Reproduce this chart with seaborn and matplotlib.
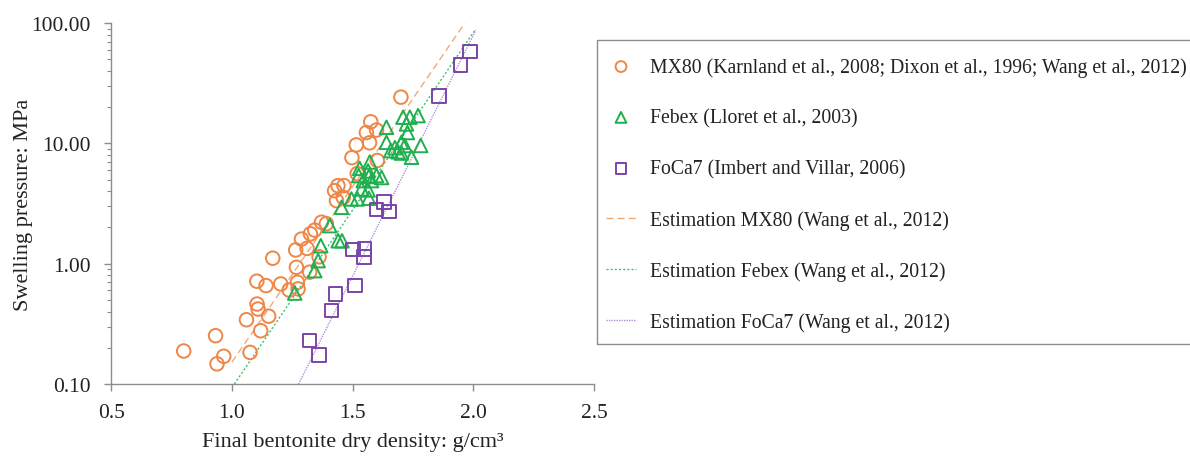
import numpy as np
import pandas as pd
import matplotlib
matplotlib.use("Agg")
import matplotlib.pyplot as plt
import seaborn as sns
from matplotlib.patches import Rectangle
from matplotlib.ticker import FixedLocator, FormatStrFormatter, LogLocator, NullFormatter

# ---------------- data ----------------
mx80_density = [0.800, 0.932, 0.938, 0.966, 1.075, 1.060, 1.119, 1.104, 1.108, 1.152,
                1.103, 1.141, 1.169, 1.202, 1.237, 1.274, 1.271, 1.267, 1.264, 1.311,
                1.288, 1.322, 1.361, 1.325, 1.343, 1.371, 1.391, 1.425, 1.439, 1.464,
                1.433, 1.461, 1.497, 1.515, 1.519, 1.557, 1.570, 1.575, 1.599, 1.602,
                1.700]
mx80_pressure = [0.188, 0.252, 0.147, 0.170, 0.183, 0.342, 0.277, 0.462, 0.420, 0.366,
                 0.715, 0.657, 1.11, 0.678, 0.604, 0.617, 0.700, 0.933, 1.30, 1.34,
                 1.60, 0.85, 1.14, 1.77, 1.90, 2.21, 2.15, 4.04, 4.45, 4.45,
                 3.34, 3.55, 7.6, 9.7, 5.6, 12.3, 10.1, 15.1, 12.9, 7.2,
                 24.2]

febex_density = [1.709, 1.737, 1.771, 1.640, 1.723, 1.727, 1.640, 1.675, 1.702, 1.716,
                 1.658, 1.688, 1.702, 1.744, 1.782, 1.571, 1.529, 1.564, 1.525, 1.567,
                 1.599, 1.620, 1.544, 1.578, 1.537, 1.564, 1.495, 1.520, 1.567, 1.454,
                 1.405, 1.440, 1.456, 1.368, 1.357, 1.343, 1.260]
febex_pressure = [16.5, 16.5, 17.0, 13.6, 14.5, 12.3, 10.2, 9.2, 10.2, 9.6,
                  8.7, 8.5, 8.3, 7.66, 9.6, 7.0, 6.2, 5.9, 5.4, 5.3,
                  5.4, 5.2, 4.9, 4.9, 4.18, 4.1, 3.45, 3.45, 3.5, 2.94,
                  2.07, 1.55, 1.55, 1.41, 1.06, 0.875, 0.57]

foca7_density = [1.986, 1.947, 1.857, 1.631, 1.599, 1.651, 1.502, 1.550, 1.548, 1.509,
                 1.429, 1.412, 1.322, 1.360]
foca7_pressure = [58.2, 44.9, 24.7, 3.27, 2.81, 2.71, 1.31, 1.33, 1.14, 0.656,
                  0.56, 0.407, 0.229, 0.174]

# estimation lines (end points)
est_mx80_density = [1.00, 1.965]
est_mx80_pressure = [0.152, 100.0]
est_febex_density = [1.01, 2.006]
est_febex_pressure = [0.10, 87.0]
est_foca7_density = [1.276, 2.01]
est_foca7_pressure = [0.10, 87.0]

x_ticks = [0.5, 1.0, 1.5, 2.0, 2.5]
y_ticks = [0.1, 1.0, 10.0, 100.0]

labels = ["MX80 (Karnland et al., 2008; Dixon et al., 1996; Wang et al., 2012)",
          "Febex (Lloret et al., 2003)",
          "FoCa7 (Imbert and Villar, 2006)",
          "Estimation MX80 (Wang et al., 2012)",
          "Estimation Febex (Wang et al., 2012)",
          "Estimation FoCa7 (Wang et al., 2012)"]

# ---------------- style ----------------
sns.set_style("ticks")
plt.rcParams['font.family'] = ['Liberation Serif', 'DejaVu Serif']
FS_TICK = 15.5
FS_LABEL = 16
FS_LEG = 14.2
TXT = "#222222"
GRAY = "#8c8c8c"

c_orange = "#EE8646"
c_green = "#1FAF4F"
c_purple = "#7A44A8"
l_orange = "#F4A878"
l_green = "#3CC26A"
l_purple = "#B092D6"

W, H = 1190, 477
fig = plt.figure(figsize=(W / 100, H / 100), dpi=100)
ax = fig.add_axes([111.3 / W, 1 - 385 / H, (594 - 111.3) / W, (385 - 24) / H])

df_mx = pd.DataFrame({"d": mx80_density, "p": mx80_pressure})
df_fe = pd.DataFrame({"d": febex_density, "p": febex_pressure})
df_fo = pd.DataFrame({"d": foca7_density, "p": foca7_pressure})

ms = 95
lw_m = 1.4
sns.scatterplot(data=df_mx, x="d", y="p", ax=ax, marker="o", s=ms, facecolors="none",
                edgecolor=c_orange, linewidth=lw_m, label=labels[0], zorder=3)
sns.scatterplot(data=df_fe, x="d", y="p", ax=ax, marker="^", s=ms, facecolors="none",
                edgecolor=c_green, linewidth=lw_m, label=labels[1], zorder=3)
sns.scatterplot(data=df_fo, x="d", y="p", ax=ax, marker="s", s=ms, facecolors="none",
                edgecolor=c_purple, linewidth=lw_m, label=labels[2], zorder=3)

sns.lineplot(x=est_mx80_density, y=est_mx80_pressure, ax=ax, color=l_orange, lw=1.0,
             linestyle=(0, (5, 3)), label=labels[3], zorder=2)
sns.lineplot(x=est_febex_density, y=est_febex_pressure, ax=ax, color=l_green, lw=1.0,
             linestyle=(0, (1.5, 1.5)), label=labels[4], zorder=2)
sns.lineplot(x=est_foca7_density, y=est_foca7_pressure, ax=ax, color=l_purple, lw=1.0,
             linestyle=(0, (1, 0.8)), label=labels[5], zorder=2)

ax.set_yscale("log")
ax.set_xlim(0.5, 2.5)
ax.set_ylim(0.1, 100)
ax.xaxis.set_major_locator(FixedLocator(x_ticks))
ax.xaxis.set_major_formatter(FormatStrFormatter("%.1f"))
ax.yaxis.set_major_locator(FixedLocator(y_ticks))
ax.yaxis.set_major_formatter(FormatStrFormatter("%.2f"))
ax.yaxis.set_minor_locator(LogLocator(base=10, subs=np.arange(2, 10)))
ax.yaxis.set_minor_formatter(NullFormatter())

for s in ["top", "right"]:
    ax.spines[s].set_visible(False)
for s in ["left", "bottom"]:
    ax.spines[s].set_color(GRAY)
    ax.spines[s].set_linewidth(1.0)
ax.tick_params(axis="both", which="major", direction="out", length=5, width=1.0,
               color=GRAY, labelsize=FS_TICK, labelcolor=TXT)
ax.tick_params(axis="x", which="major", pad=9)
ax.tick_params(axis="y", which="major", pad=10)
ax.tick_params(axis="y", which="minor", direction="out", length=3, width=0.8, color=GRAY)

ax.set_xlabel("Final bentonite dry density: g/cm³", fontsize=FS_LABEL, color=TXT, labelpad=7)
ax.set_ylabel("Swelling pressure: MPa", fontsize=FS_LABEL, color=TXT, labelpad=-1.5)

handles, labs = ax.get_legend_handles_labels()
if ax.get_legend():
    ax.get_legend().remove()

# legend box (frame drawn separately for exact placement)
fig.patches.append(Rectangle((597 / W, 1 - 345 / H), (1192 - 597) / W, (345 - 41) / H,
                             transform=fig.transFigure, fill=False, edgecolor=GRAY,
                             linewidth=1.0, zorder=0))
leg = fig.legend(handles, labs, loc="upper left",
                 bbox_to_anchor=(606 / W, 1 - 58 / H),
                 frameon=False, fontsize=FS_LEG, labelspacing=1.6, handlelength=1.52,
                 handletextpad=0.7, borderpad=0, borderaxespad=0, markerscale=0.8)
for t in leg.get_texts():
    t.set_color(TXT)

fig.savefig("out.png", dpi=100)
